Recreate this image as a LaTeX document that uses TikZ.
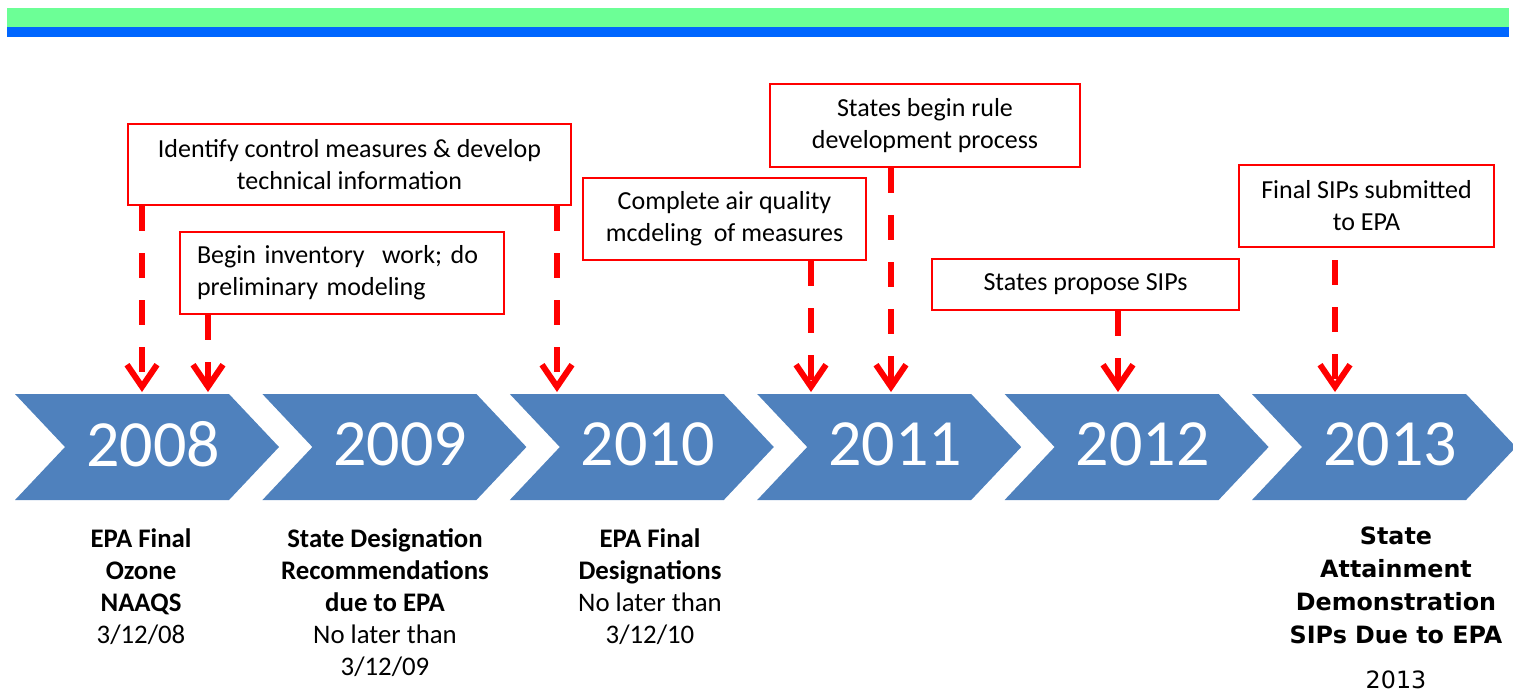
\documentclass[tikz,border=0pt]{standalone}
\usepackage{fontspec}
\setmainfont{Carlito}
\newfontfamily\tahomafont{DejaVu Sans}
\usetikzlibrary{arrows.meta}
\definecolor{barGreen}{RGB}{108,255,150}
\definecolor{barBlue}{RGB}{0,102,255}
\definecolor{chevBlue}{RGB}{79,129,189}
\definecolor{evRed}{RGB}{255,0,0}
\tikzset{
  evbox/.style={draw=evRed,line width=1pt,fill=white,inner sep=0pt,align=center,font=\fontsize{13}{16}\selectfont},
  evarrow/.style={evRed,line width=3pt,dash pattern=on 12.5pt off 11pt,-{Straight Barb[length=11pt,width=15pt]}},
  yearlbl/.style={text=white,font=\fontsize{33}{40}\selectfont},
  datelbl/.style={align=center,font=\fontsize{13.4}{16}\selectfont}
}
\begin{document}
\begin{tikzpicture}[x=0.5pt,y=-0.5pt]
\clip (0,0) rectangle (1513,693);
\fill[barGreen] (7,8) rectangle (1509,27);
\fill[barBlue] (7,27) rectangle (1509,37);
\foreach \yr [count=\i from 0] in {2008,2009,2010,2011,2012,2013}{
  \fill[chevBlue] ({15+247.4*\i},394) -- ++(214,0) -- ++(50,53) -- ++(-50,53) -- ++(-214,0) -- ++(50,-53) -- cycle;
  \node[yearlbl] (y\yr) at ({153+247.4*\i},444) {\yr};
}
\coordinate (top) at (0,392);
\node[evbox,minimum width=221.5pt,minimum height=40.5pt] (idbox) at (349.5,164.5) {Identify control measures \& develop\\technical information};
\node[evbox,text width=145pt,inner xsep=8.5pt,align=left,minimum height=41pt] (invbox) at (342,273) {Begin inventory~ work; do\\preliminary modeling};
\node[evbox,minimum width=141.5pt,minimum height=41pt] (aqbox) at (724.5,219) {Complete air quality\\mcdeling~ of measures};
\node[evbox,minimum width=155pt,minimum height=41.5pt] (rulebox) at (925,125.5) {States begin rule\\development process};
\node[evbox,minimum width=153.5pt,minimum height=25.5pt] (sipbox) at (1085.5,284.5) {States propose SIPs};
\node[evbox,minimum width=127.5pt,minimum height=41pt] (finbox) at (1366.5,206) {Final SIPs submitted\\to EPA};
\draw[evarrow] (idbox.south -| 142,0) -- (142,0 |- top);
\draw[evarrow] (idbox.south -| 557,0) -- (557,0 |- top);
\draw[evarrow] (invbox.south -| 208,0) -- (208,0 |- top);
\draw[evarrow] (aqbox.south -| 811,0) -- (811,0 |- top);
\draw[evarrow] (rulebox.south -| 891,0) -- (891,0 |- top);
\draw[evarrow] (sipbox.south -| 1118,0) -- (1118,0 |- top);
\draw[evarrow,shorten <=6pt] (finbox.south -| 1335,0) -- (1335,0 |- top);
\node[datelbl] (d2008) at (141,587) {\textbf{EPA Final}\\\textbf{Ozone}\\\textbf{NAAQS}\\3/12/08};
\node[datelbl] (d2009) at (385,602.5) {\textbf{State Designation}\\\textbf{Recommendations}\\\textbf{due to EPA}\\No later than\\3/12/09};
\node[datelbl] (d2010) at (650,587) {\textbf{EPA Final}\\\textbf{Designations}\\No later than\\3/12/10};
\node[datelbl,font=\tahomafont\fontsize{11.9}{16.5}\selectfont] (d2013) at (1396,608) {\textbf{State}\\\textbf{Attainment}\\\textbf{Demonstration}\\\textbf{SIPs Due to EPA}\\[6pt]2013};
\end{tikzpicture}
\end{document}
